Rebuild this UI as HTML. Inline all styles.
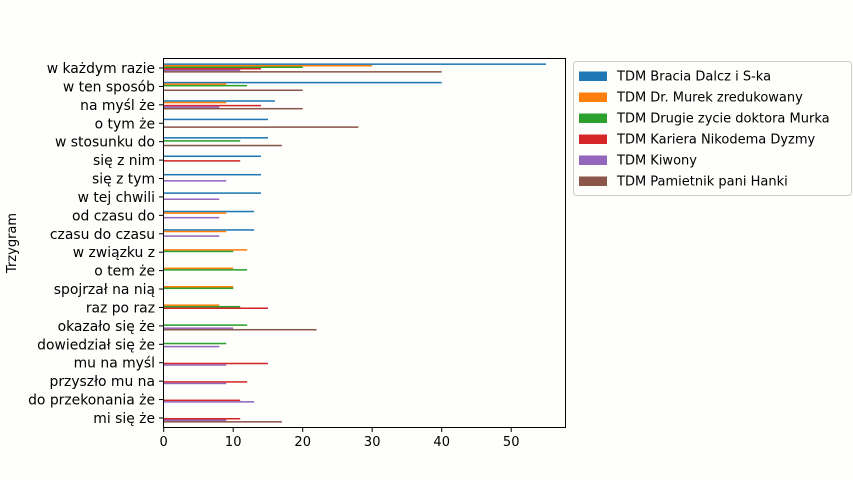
<!DOCTYPE html>
<html><head><meta charset="utf-8"><style>body{margin:0;background:#fefffc}svg{display:block}text{font-family:"DejaVu Sans",sans-serif;font-size:13px;fill:#000}.yl{font-size:13.9px}</style></head>
<body>
<svg id="s" width="853" height="480" xmlns="http://www.w3.org/2000/svg">
<rect width="853" height="480" fill="#fefffc"/>
<g id="bars"></g>
<rect x="163.5" y="58.5" width="402" height="369" fill="none" stroke="#000" stroke-width="1"/>
<g id="ax"></g>
<text x="16" y="243" text-anchor="middle" transform="rotate(-90 16 243)">Trzygram</text>
<rect x="573.5" y="61.5" width="278" height="134" rx="3" fill="#fefffc" stroke="#ccc"/>
<g id="leg"></g>
</svg>
<script>
var C=["#1f77b4","#ff7f0e","#2ca02c","#d62728","#9467bd","#8c564b"];
var N=["TDM Bracia Dalcz i S-ka","TDM Dr. Murek zredukowany","TDM Drugie zycie doktora Murka","TDM Kariera Nikodema Dyzmy","TDM Kiwony","TDM Pamietnik pani Hanki"];
var D=[["w każdym razie",[55,30,20,14,11,40]],["w ten sposób",[40,9,12,0,0,20]],["na myśl że",[16,9,0,14,8,20]],["o tym że",[15,0,0,0,0,28]],["w stosunku do",[15,0,11,0,0,17]],["się z nim",[14,0,0,11,0,0]],["się z tym",[14,0,0,0,9,0]],["w tej chwili",[14,0,0,0,8,0]],["od czasu do",[13,9,0,0,8,0]],["czasu do czasu",[13,9,0,0,8,0]],["w związku z",[0,12,10,0,0,0]],["o tem że",[0,10,12,0,0,0]],["spojrzał na nią",[0,10,10,0,0,0]],["raz po raz",[0,8,11,15,0,0]],["okazało się że",[0,0,12,0,10,22]],["dowiedział się że",[0,0,9,0,8,0]],["mu na myśl",[0,0,0,15,9,0]],["przyszło mu na",[0,0,0,12,9,0]],["do przekonania że",[0,0,0,11,13,0]],["mi się że",[0,0,0,11,9,17]]];
var x0=163.7,k=6.95,b="",a="",l="";
D.forEach(function(d,i){var t=68+i*18.42;d[1].forEach(function(v,j){if(v>0)b+='<rect x="'+x0+'" y="'+(t-4.6+j*1.535).toFixed(2)+'" width="'+(v*k).toFixed(1)+'" height="1.535" fill="'+C[j]+'"/>';});
a+='<line x1="159" x2="163.5" y1="'+t+'" y2="'+t+'" stroke="#000"/><text class="yl" x="155" y="'+(t+5)+'" text-anchor="end">'+d[0]+'</text>';});
for(var v=0;v<=50;v+=10){var x=x0+v*k;a+='<line x1="'+x+'" x2="'+x+'" y1="427.5" y2="432" stroke="#000"/><text x="'+x+'" y="446" text-anchor="middle">'+v+'</text>';}
N.forEach(function(n,i){var y=76+i*21;l+='<rect x="579" y="'+(y-4.5)+'" width="28" height="9.5" fill="'+C[i]+'"/><text x="617" y="'+(y+4.5)+'">'+n+'</text>';});
document.getElementById("bars").innerHTML=b;document.getElementById("ax").innerHTML=a;document.getElementById("leg").innerHTML=l;
</script>
</body></html>
